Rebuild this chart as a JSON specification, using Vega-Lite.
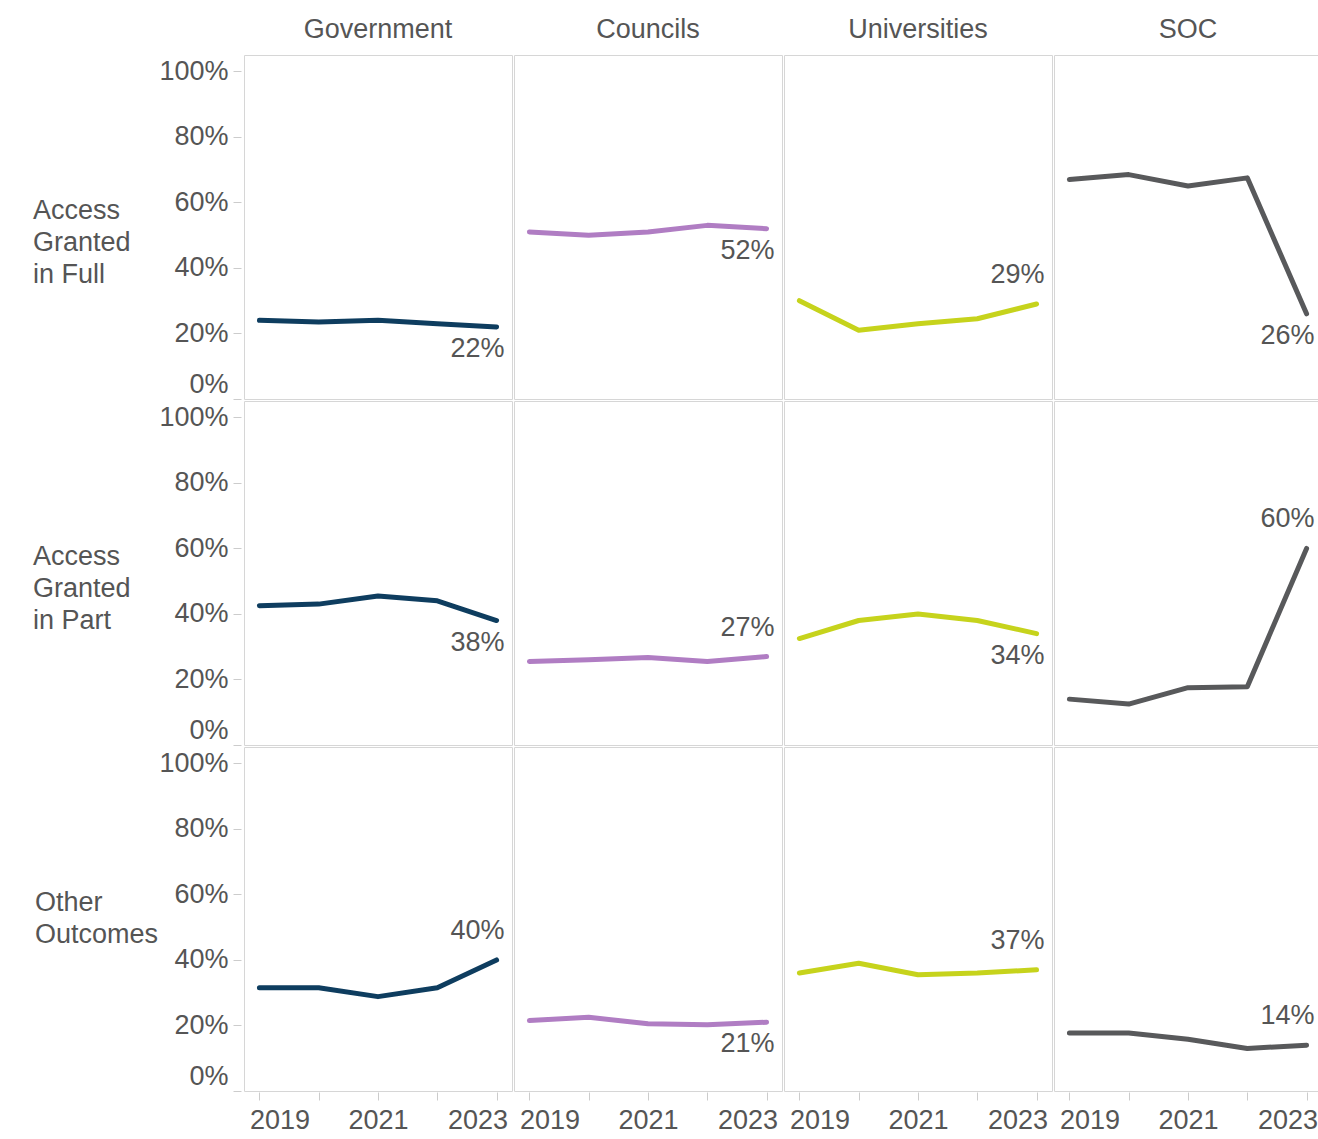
{
  "$schema": "https://vega.github.io/schema/vega-lite/v6.json",
  "background": "white",
  "padding": {"left": 32, "top": 16, "right": 2, "bottom": 2},
  "data": {"values": [
    {"outcome": "Access Granted in Full", "body": "Government", "year": 2019, "value": 0.24},
    {"outcome": "Access Granted in Full", "body": "Government", "year": 2020, "value": 0.235},
    {"outcome": "Access Granted in Full", "body": "Government", "year": 2021, "value": 0.24},
    {"outcome": "Access Granted in Full", "body": "Government", "year": 2022, "value": 0.23},
    {"outcome": "Access Granted in Full", "body": "Government", "year": 2023, "value": 0.22},
    {"outcome": "Access Granted in Full", "body": "Councils", "year": 2019, "value": 0.51},
    {"outcome": "Access Granted in Full", "body": "Councils", "year": 2020, "value": 0.50},
    {"outcome": "Access Granted in Full", "body": "Councils", "year": 2021, "value": 0.51},
    {"outcome": "Access Granted in Full", "body": "Councils", "year": 2022, "value": 0.53},
    {"outcome": "Access Granted in Full", "body": "Councils", "year": 2023, "value": 0.52},
    {"outcome": "Access Granted in Full", "body": "Universities", "year": 2019, "value": 0.30},
    {"outcome": "Access Granted in Full", "body": "Universities", "year": 2020, "value": 0.21},
    {"outcome": "Access Granted in Full", "body": "Universities", "year": 2021, "value": 0.23},
    {"outcome": "Access Granted in Full", "body": "Universities", "year": 2022, "value": 0.245},
    {"outcome": "Access Granted in Full", "body": "Universities", "year": 2023, "value": 0.29},
    {"outcome": "Access Granted in Full", "body": "SOC", "year": 2019, "value": 0.67},
    {"outcome": "Access Granted in Full", "body": "SOC", "year": 2020, "value": 0.685},
    {"outcome": "Access Granted in Full", "body": "SOC", "year": 2021, "value": 0.65},
    {"outcome": "Access Granted in Full", "body": "SOC", "year": 2022, "value": 0.675},
    {"outcome": "Access Granted in Full", "body": "SOC", "year": 2023, "value": 0.26},
    {"outcome": "Access Granted in Part", "body": "Government", "year": 2019, "value": 0.425},
    {"outcome": "Access Granted in Part", "body": "Government", "year": 2020, "value": 0.43},
    {"outcome": "Access Granted in Part", "body": "Government", "year": 2021, "value": 0.455},
    {"outcome": "Access Granted in Part", "body": "Government", "year": 2022, "value": 0.44},
    {"outcome": "Access Granted in Part", "body": "Government", "year": 2023, "value": 0.38},
    {"outcome": "Access Granted in Part", "body": "Councils", "year": 2019, "value": 0.255},
    {"outcome": "Access Granted in Part", "body": "Councils", "year": 2020, "value": 0.26},
    {"outcome": "Access Granted in Part", "body": "Councils", "year": 2021, "value": 0.267},
    {"outcome": "Access Granted in Part", "body": "Councils", "year": 2022, "value": 0.255},
    {"outcome": "Access Granted in Part", "body": "Councils", "year": 2023, "value": 0.27},
    {"outcome": "Access Granted in Part", "body": "Universities", "year": 2019, "value": 0.325},
    {"outcome": "Access Granted in Part", "body": "Universities", "year": 2020, "value": 0.38},
    {"outcome": "Access Granted in Part", "body": "Universities", "year": 2021, "value": 0.40},
    {"outcome": "Access Granted in Part", "body": "Universities", "year": 2022, "value": 0.38},
    {"outcome": "Access Granted in Part", "body": "Universities", "year": 2023, "value": 0.34},
    {"outcome": "Access Granted in Part", "body": "SOC", "year": 2019, "value": 0.14},
    {"outcome": "Access Granted in Part", "body": "SOC", "year": 2020, "value": 0.125},
    {"outcome": "Access Granted in Part", "body": "SOC", "year": 2021, "value": 0.175},
    {"outcome": "Access Granted in Part", "body": "SOC", "year": 2022, "value": 0.178},
    {"outcome": "Access Granted in Part", "body": "SOC", "year": 2023, "value": 0.60},
    {"outcome": "Other Outcomes", "body": "Government", "year": 2019, "value": 0.315},
    {"outcome": "Other Outcomes", "body": "Government", "year": 2020, "value": 0.315},
    {"outcome": "Other Outcomes", "body": "Government", "year": 2021, "value": 0.288},
    {"outcome": "Other Outcomes", "body": "Government", "year": 2022, "value": 0.315},
    {"outcome": "Other Outcomes", "body": "Government", "year": 2023, "value": 0.40},
    {"outcome": "Other Outcomes", "body": "Councils", "year": 2019, "value": 0.215},
    {"outcome": "Other Outcomes", "body": "Councils", "year": 2020, "value": 0.225},
    {"outcome": "Other Outcomes", "body": "Councils", "year": 2021, "value": 0.205},
    {"outcome": "Other Outcomes", "body": "Councils", "year": 2022, "value": 0.202},
    {"outcome": "Other Outcomes", "body": "Councils", "year": 2023, "value": 0.21},
    {"outcome": "Other Outcomes", "body": "Universities", "year": 2019, "value": 0.36},
    {"outcome": "Other Outcomes", "body": "Universities", "year": 2020, "value": 0.39},
    {"outcome": "Other Outcomes", "body": "Universities", "year": 2021, "value": 0.355},
    {"outcome": "Other Outcomes", "body": "Universities", "year": 2022, "value": 0.36},
    {"outcome": "Other Outcomes", "body": "Universities", "year": 2023, "value": 0.37},
    {"outcome": "Other Outcomes", "body": "SOC", "year": 2019, "value": 0.177},
    {"outcome": "Other Outcomes", "body": "SOC", "year": 2020, "value": 0.177},
    {"outcome": "Other Outcomes", "body": "SOC", "year": 2021, "value": 0.158},
    {"outcome": "Other Outcomes", "body": "SOC", "year": 2022, "value": 0.13},
    {"outcome": "Other Outcomes", "body": "SOC", "year": 2023, "value": 0.14}
  ]},
  "spacing": 0,
  "facet": {
    "row": {
      "field": "outcome", "type": "nominal",
      "sort": ["Access Granted in Full", "Access Granted in Part", "Other Outcomes"],
      "header": {
        "title": null,
        "labelOrient": "left",
        "labelAngle": 0,
        "labelAlign": "left",
        "labelBaseline": "line-bottom",
        "labelFontSize": 27,
        "labelLineHeight": 32,
        "labelColor": "#555555",
        "labelPadding": 1,
        "labelExpr": "datum.value == 'Other Outcomes' ? ['Other', 'Outcomes'] : ['Access', 'Granted\u00a0\u2800', replace(datum.value, 'Access Granted ', '')]"
      }
    },
    "column": {
      "field": "body", "type": "nominal",
      "sort": ["Government", "Councils", "Universities", "SOC"],
      "header": {
        "title": null,
        "labelFontSize": 27,
        "labelColor": "#555555",
        "labelPadding": 10
      }
    }
  },
  "spec": {
    "width": 268,
    "height": 344,
    "encoding": {
      "x": {
        "field": "year", "type": "ordinal",
        "scale": {"type": "point", "padding": 0.26},
        "axis": {
          "title": null,
          "labelAngle": 0,
          "labelExpr": "datum.value % 2 == 1 ? datum.label : ''",
          "labelAlign": {"condition": [{"test": "datum.value == 2019", "value": "left"}, {"test": "datum.value == 2023", "value": "right"}], "value": "center"},
          "labelOffset": {"condition": [{"test": "datum.value == 2019", "value": -10}, {"test": "datum.value == 2023", "value": 11}], "value": 0},
          "labelOverlap": false,
          "labelBound": false,
          "tickSize": 8,
          "labelPadding": 7
        }
      },
      "y": {
        "field": "value", "type": "quantitative",
        "scale": {"domain": [0, 1.05], "nice": false},
        "axis": {
          "title": null,
          "values": [0, 0.2, 0.4, 0.6, 0.8, 1],
          "format": ".0%",
          "offset": 2,
          "tickSize": 8,
          "labelPadding": 5,
          "labelOffset": {"condition": {"test": "datum.value == 0", "value": -15}, "value": 0},
          "grid": false
        }
      }
    },
    "layer": [
      {
        "mark": {"type": "line", "strokeWidth": 5, "strokeJoin": "round", "strokeCap": "round"},
        "encoding": {
          "color": {
            "field": "body", "type": "nominal",
            "scale": {"domain": ["Government", "Councils", "Universities", "SOC"], "range": ["#0e3d5f", "#b07dc3", "#c6d31c", "#58595b"]},
            "legend": null
          }
        }
      },
      {
        "transform": [{"filter": "datum.year == 2023 && indexof(['Universities|Access Granted in Full','Councils|Access Granted in Part','SOC|Access Granted in Part','Government|Other Outcomes','Universities|Other Outcomes','SOC|Other Outcomes'], datum.body + '|' + datum.outcome) >= 0"}],
        "mark": {"type": "text", "align": "right", "baseline": "middle", "dx": 8, "dy": -29, "fontSize": 27, "color": "#555555"},
        "encoding": {"text": {"field": "value", "type": "quantitative", "format": ".0%"}}
      },
      {
        "transform": [{"filter": "datum.year == 2023 && indexof(['Universities|Access Granted in Full','Councils|Access Granted in Part','SOC|Access Granted in Part','Government|Other Outcomes','Universities|Other Outcomes','SOC|Other Outcomes'], datum.body + '|' + datum.outcome) < 0"}],
        "mark": {"type": "text", "align": "right", "baseline": "middle", "dx": 8, "dy": 22, "fontSize": 27, "color": "#555555"},
        "encoding": {"text": {"field": "value", "type": "quantitative", "format": ".0%"}}
      }
    ]
  },
  "config": {
    "font": "Liberation Sans",
    "view": {"stroke": "#d6d6d6", "strokeWidth": 1},
    "axis": {
      "labelFontSize": 27,
      "labelColor": "#555555",
      "labelFont": "Liberation Sans",
      "tickColor": "#cccccc",
      "domain": false
    }
  }
}
